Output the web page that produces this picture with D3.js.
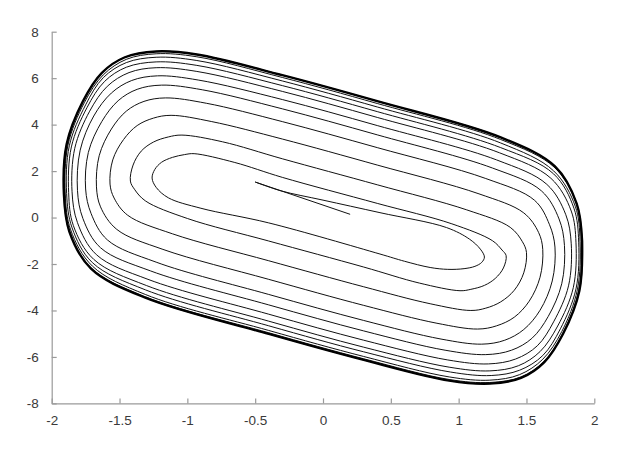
<!DOCTYPE html>
<html>
<head>
<meta charset="utf-8">
<script src="https://cdn.jsdelivr.net/npm/d3@7"></script>
<style>
  html, body { margin: 0; padding: 0; background: #fff; }
  svg { display: block; }
  text { font-family: "Liberation Sans", Arial, Helvetica, sans-serif; }
</style>
</head>
<body>
<svg id="chart" width="627" height="449"></svg>
<script>
// ---- data ----
const xTicks = [-2, -1.5, -1, -0.5, 0, 0.5, 1, 1.5, 2];
const xTickLabels = ["-2", "-1.5", "-1", "-0.5", "0", "0.5", "1", "1.5", "2"];
const yTicks = [-8, -6, -4, -2, 0, 2, 4, 6, 8];
const yTickLabels = ["-8", "-6", "-4", "-2", "0", "2", "4", "6", "8"];
const xDomain = [-2, 2];
const yDomain = [-8, 8];

// initial transient: start point to the turning point
const transient = [[0.2, 0.14], [-0.5, 1.53]];

// trajectory from the turning point, spiralling out to the limit cycle
const trajectory = [
  [-0.5,1.53],[-0.31,1.15],[0.0,0.75],[0.42,0.21],[0.91,-0.43],[1.08,-0.93],[1.16,-1.36],
  [1.19,-1.70],[1.17,-1.93],[1.12,-2.10],[1.04,-2.20],[0.92,-2.23],[0.79,-2.15],[0.60,-1.88],[0.42,-1.57],[-0.40,-0.23],[-0.90,0.40],[-1.14,0.85],[-1.23,1.3],
  [-1.26,1.70],[-1.24,2.07],[-1.19,2.38],[-1.11,2.59],[-1.02,2.71],[-0.95,2.75],[-0.65,2.37],[-0.30,1.73],[0.40,0.61],[0.95,-0.27],[1.25,-1.0],[1.32,-1.4],
  [1.35,-1.64],[1.33,-2.17],[1.27,-2.62],[1.19,-2.92],[1.09,-3.09],[1.01,-3.15],[0.71,-2.82],[0.30,-2.13],[-0.40,-1.01],[-1.00,-0.04],[-1.31,0.72],[-1.39,1.22],
  [-1.42,1.57],[-1.40,2.26],[-1.34,2.86],[-1.25,3.25],[-1.14,3.47],[-1.04,3.55],[-0.74,3.26],[-0.30,2.53],[0.40,1.41],[1.06,0.33],[1.38,-0.42],[1.47,-1.04],
  [1.50,-1.50],[1.48,-2.38],[1.41,-3.13],[1.31,-3.63],[1.20,-3.90],[1.09,-4.00],[0.79,-3.71],[0.30,-2.98],[-0.40,-1.86],[-1.11,-0.70],[-1.44,0.10],[-1.54,0.84],
  [-1.57,1.44],[-1.55,2.48],[-1.47,3.36],[-1.37,3.96],[-1.25,4.28],[-1.12,4.40],[-0.82,4.13],[-0.30,3.38],[0.40,2.26],[1.15,1.02],[1.48,0.20],[1.59,-0.65],
  [1.62,-1.37],[1.60,-2.57],[1.52,-3.60],[1.41,-4.29],[1.28,-4.66],[1.14,-4.80],[0.84,-4.55],[0.30,-3.78],[-0.40,-2.66],[-1.18,-1.37],[-1.52,-0.51],[-1.64,0.46],
  [-1.67,1.32],[-1.65,2.66],[-1.56,3.81],[-1.45,4.58],[-1.32,5.00],[-1.16,5.15],[-0.86,4.92],[-0.30,4.13],[0.40,3.01],[1.20,1.68],[1.56,0.74],[1.67,-0.31],
  [1.71,-1.27],[1.69,-2.73],[1.60,-3.99],[1.48,-4.82],[1.34,-5.28],[1.17,-5.45],[0.87,-5.23],[0.30,-4.43],[-0.40,-3.31],[-1.23,-1.92],[-1.59,-0.96],[-1.71,0.18],
  [-1.75,1.23],[-1.73,2.80],[-1.63,4.14],[-1.51,5.03],[-1.37,5.52],[-1.19,5.70],[-0.89,5.50],[-0.30,4.68],[0.40,3.56],[1.25,2.13],[1.61,1.15],[1.74,-0.06],
  [1.78,-1.20],[1.76,-2.85],[1.66,-4.26],[1.54,-5.20],[1.39,-5.71],[1.20,-5.90],[0.90,-5.71],[0.30,-4.88],[-0.40,-3.76],[-1.27,-2.30],[-1.64,-1.30],[-1.77,-0.04],
  [-1.81,1.17],[-1.79,2.90],[-1.69,4.37],[-1.56,5.36],[-1.41,5.90],[-1.22,6.10],[-0.92,5.92],[-0.30,5.08],[0.40,3.96],[1.28,2.48],[1.65,1.43],[1.79,0.12],
  [1.83,-1.13],[1.81,-2.94],[1.70,-4.49],[1.58,-5.52],[1.42,-6.09],[1.22,-6.30],[0.92,-6.13],[0.30,-5.28],[-0.40,-4.16],[-1.29,-2.66],[-1.67,-1.60],[-1.81,-0.22],
  [-1.85,1.11],[-1.83,2.98],[-1.72,4.58],[-1.59,5.65],[-1.43,6.24],[-1.23,6.45],[-0.93,6.29],[-0.30,5.43],[0.40,4.31],[1.30,2.79],[1.68,1.69],[1.83,0.28],
  [1.865,-1.09],[1.845,-3.02],[1.73,-4.67],[1.60,-5.77],[1.44,-6.38],[1.23,-6.60],[0.93,-6.44],[0.30,-5.58],[-0.40,-4.46],[-1.30,-2.93],[-1.69,-1.80],[-1.84,-0.35],
  [-1.875,1.07],[-1.855,3.04],[-1.74,4.73],[-1.61,5.86],[-1.45,6.47],[-1.23,6.70],[-0.93,6.55],[-0.30,5.68],[0.40,4.56],[1.31,3.01],[1.70,1.88],[1.85,0.40],
  [1.885,-1.06],[1.865,-3.07],[1.75,-4.79],[1.62,-5.94],[1.45,-6.57],[1.24,-6.80],[0.94,-6.65],[0.30,-5.78],[-0.40,-4.66],[-1.31,-3.11],[-1.70,-1.94],[-1.85,-0.44],
  [-1.89,1.04],[-1.87,3.09],[-1.75,4.85],[-1.62,6.02],[-1.45,6.67],[-1.23,6.90],[-0.93,6.76],[-0.30,5.88],[0.40,4.76],[1.31,3.21],[1.70,2.01],[1.86,0.48],
  [1.895,-1.02],[1.875,-3.11],[1.76,-4.91],[1.62,-6.10],[1.45,-6.76],[1.23,-7.00],[0.93,-6.86],[0.30,-5.98],[-0.40,-4.86],[-1.31,-3.31],[-1.70,-2.09],[-1.86,-0.53],
  [-1.90,1.01],[-1.88,3.12],[-1.76,4.94],[-1.62,6.14],[-1.45,6.81],[-1.23,7.05],[-0.93,6.92],[-0.30,6.03],[0.40,4.91],[1.31,3.36],[1.71,2.14],[1.87,0.56],
  [1.905,-1.01],[1.885,-3.14],[1.77,-4.97],[1.63,-6.19],[1.46,-6.86],[1.23,-7.10],[0.93,-6.97],[0.30,-6.08],[-0.40,-4.96],[-1.31,-3.41],[-1.71,-2.17],[-1.87,-0.58],
  [-1.905,1.00],[-1.885,3.15],[-1.77,5.00],[-1.63,6.23],[-1.46,6.90],[-1.23,7.15],[-0.93,7.02],[-0.30,6.13],[0.40,5.01],[1.31,3.45],[1.71,2.20],[1.87,0.60],
  [1.91,-1.0],[1.89,-3.15],[1.77,-5.0],[1.63,-6.23],[1.46,-6.9],[1.23,-7.15],[0.93,-7.02],[0.30,-6.13],[-0.40,-5.01],[-1.31,-3.45],[-1.71,-2.2],[-1.87,-0.6],
  [-1.91,1.0],[-1.89,3.15],[-1.77,5.0],[-1.63,6.23],[-1.46,6.9],[-1.23,7.15],[-0.93,7.02],[-0.30,6.13],[0.40,5.01],[1.31,3.45],[1.71,2.2],[1.87,0.6],[1.91,-1.0]
];
// number of trailing points forming the converged (limit) cycle, drawn heavier
const limitCyclePoints = 25;

// ---- drawing ----
const svg = d3.select("#chart");
const plotLeft = 51.7, plotRight = 594.3, plotTop = 31.7, plotBottom = 403.4;

const x = d3.scaleLinear().domain(xDomain).range([plotLeft, plotRight]);
const y = d3.scaleLinear().domain(yDomain).range([plotBottom, plotTop]);

const axisColor = "#9a9a9a";
const textColor = "#3a3a3a";

const xAxis = d3.axisBottom(x)
  .tickValues(xTicks)
  .tickFormat((d, i) => xTickLabels[i])
  .tickSizeInner(-5)
  .tickSizeOuter(0)
  .tickPadding(12);
const gx = svg.append("g").attr("transform", `translate(0,${plotBottom})`).call(xAxis);

const yAxis = d3.axisLeft(y)
  .tickValues(yTicks)
  .tickFormat((d, i) => yTickLabels[i])
  .tickSizeInner(-5)
  .tickSizeOuter(0)
  .tickPadding(13);
const gy = svg.append("g").attr("transform", `translate(${plotLeft},0)`).call(yAxis);

[gx, gy].forEach(g => {
  g.select(".domain").attr("stroke", axisColor).attr("stroke-width", 1.2);
  g.selectAll(".tick line").attr("stroke", axisColor).attr("stroke-width", 1.2);
  g.selectAll(".tick text")
    .attr("fill", textColor)
    .style("font-family", '"Liberation Sans", Arial, Helvetica, sans-serif')
    .style("font-size", "13.5px");
});

const lineLinear = d3.line().x(d => x(d[0])).y(d => y(d[1]));
const lineSmooth = d3.line()
  .x(d => x(d[0])).y(d => y(d[1]))
  .curve(d3.curveCatmullRom.alpha(0.5));

svg.append("path")
  .datum(transient)
  .attr("d", lineLinear)
  .attr("fill", "none")
  .attr("stroke", "#111")
  .attr("stroke-width", 1);

svg.append("path")
  .datum(trajectory)
  .attr("d", lineSmooth)
  .attr("fill", "none")
  .attr("stroke", "#111")
  .attr("stroke-width", 1);

// converged outer cycle, where many turns overlap into a heavy line
svg.append("path")
  .datum(trajectory.slice(trajectory.length - limitCyclePoints))
  .attr("d", lineSmooth)
  .attr("fill", "none")
  .attr("stroke", "#000")
  .attr("stroke-width", 2.4);
</script>
</body>
</html>
